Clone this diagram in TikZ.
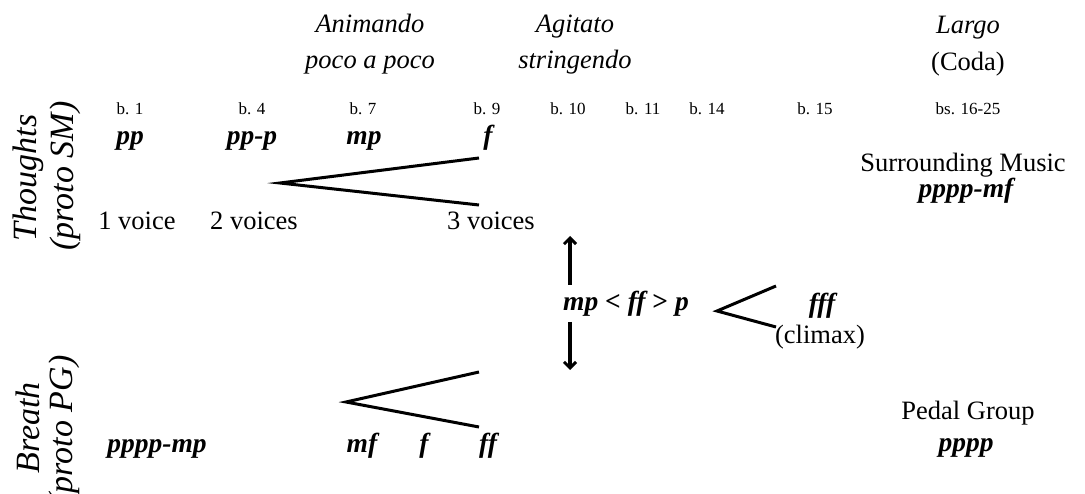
\documentclass[tikz,border=0pt]{standalone}
\usepackage{fontspec}
\setmainfont{Liberation Serif}
\usetikzlibrary{arrows.meta}
\begin{document}
\begin{tikzpicture}[x=1pt,y=-1pt,
  lab/.style={inner sep=0pt, font=\fontsize{26.5}{30}\selectfont},
  tempo/.style={inner sep=0pt, anchor=base, font=\fontsize{26.5}{30}\selectfont\itshape},
  barno/.style={inner sep=0pt, anchor=base, font=\fontsize{17}{20}\selectfont},
  dyn/.style={inner sep=0pt, font=\fontsize{27.5}{31}\selectfont\bfseries\itshape},
  side/.style={inner sep=0pt, rotate=90, font=\fontsize{34}{38}\selectfont\itshape},
  hp/.style={line width=3pt},
  arr/.style={line width=3.6pt, -{Straight Barb[length=6pt,width=12pt,line width=3pt]}}]
\path[use as bounding box] (0,0) rectangle (1085,494);
% tempo headings
\node[tempo] (anim) at (370,33) {Animando};
\node[tempo] (poco) at (370,69) {poco a poco};
\node[tempo] (agit) at (575,33) {Agitato};
\node[tempo] (string) at (575,69) {stringendo};
\node[tempo] (largo) at (968,34) {Largo};
\node[lab, anchor=base] (coda) at (968,71) {(Coda)};
% bar numbers
\node[barno] (b1) at (130,115) {b. 1};
\node[barno] (b4) at (252,115) {b. 4};
\node[barno] (b7) at (363,115) {b. 7};
\node[barno] (b9) at (487,115) {b. 9};
\node[barno] (b10) at (568,115) {b. 10};
\node[barno] (b11) at (643,115) {b. 11};
\node[barno] (b14) at (707,115) {b. 14};
\node[barno] (b15) at (815,115) {b. 15};
\node[barno] (b16) at (968,115) {bs. 16-25};
% side labels
\node[side] (thoughts) at (28,178) {Thoughts};
\node[side] (protosm) at (65,176) {(proto SM)};
\node[side] (breath) at (28,428) {Breath};
\node[side] (protopg) at (64,430) {(proto PG)};
% upper row
\node[dyn, anchor=base] (pp) at (130,145) {pp};
\node[dyn, anchor=base] (ppp) at (252,145) {pp-p};
\node[dyn, anchor=base] (mp) at (364,145) {mp};
\node[dyn, anchor=base] (f) at (488,145) {f};
\node[lab, anchor=base] (v1) at (137,230) {1 voice};
\node[lab, anchor=base] (v2) at (254,230) {2 voices};
\node[lab, anchor=base] (v3) at (491,230) {3 voices};
\coordinate (h1a) at (280,183);
\coordinate (h1b) at (479,158);
\coordinate (h1c) at (479,205);
\draw[hp] (h1b) -- (h1a) -- (h1c);
\node[lab, anchor=base] (sm) at (963,172) {Surrounding Music};
\node[dyn, anchor=base] (smdyn) at (966,198) {pppp-mf};
% middle
\node[dyn, anchor=base] (mid) at (626,311) {mp {\normalfont\bfseries<} ff {\normalfont\bfseries>} p};
\coordinate (upend) at (570,236);
\coordinate (upstart) at (570,285);
\coordinate (dnstart) at (570,322);
\coordinate (dnend) at (570,370);
\draw[arr] (upstart) -- (upend);
\draw[arr] (dnstart) -- (dnend);
\coordinate (h2a) at (717,311);
\coordinate (h2b) at (776,286);
\coordinate (h2c) at (776,327);
\draw[hp] (h2b) -- (h2a) -- (h2c);
\node[dyn, anchor=base] (fff) at (822,313) {fff};
\node[lab, anchor=base] (climax) at (820,344) {(climax)};
% lower row
\node[dyn, anchor=base] (ppppmp) at (157,453) {pppp-mp};
\node[dyn, anchor=base] (mf) at (362,453) {mf};
\node[dyn, anchor=base] (f2) at (424,453) {f};
\node[dyn, anchor=base] (ff) at (488,453) {ff};
\coordinate (h3a) at (346,402);
\coordinate (h3b) at (479,372);
\coordinate (h3c) at (479,427);
\draw[hp] (h3b) -- (h3a) -- (h3c);
\node[lab, anchor=base] (pg) at (968,419) {Pedal Group};
\node[dyn, anchor=base] (pgdyn) at (966,451) {pppp};
\end{tikzpicture}
\end{document}
